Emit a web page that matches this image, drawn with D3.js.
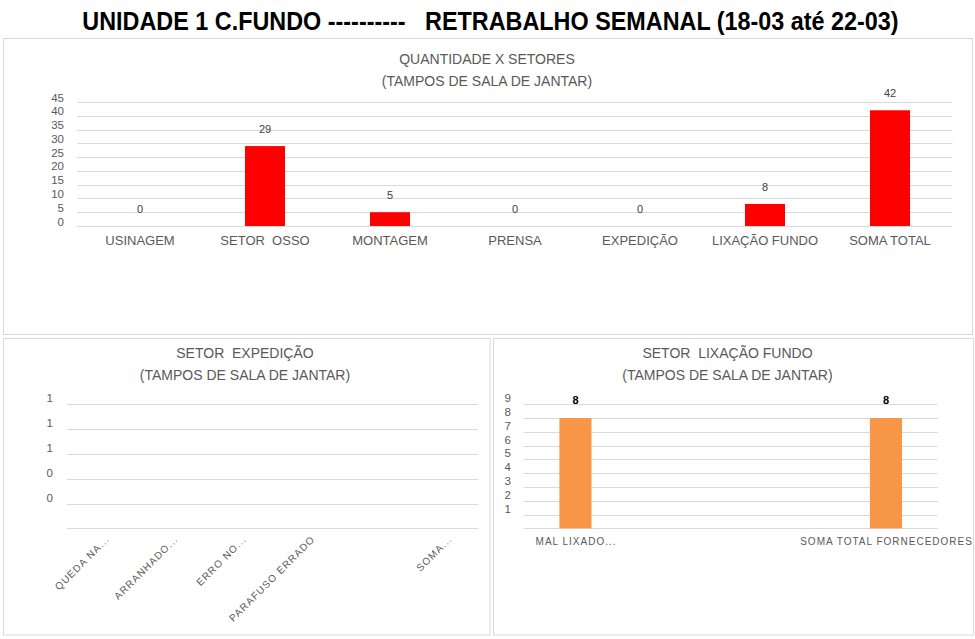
<!DOCTYPE html>
<html>
<head>
<meta charset="utf-8">
<script src="https://cdn.jsdelivr.net/npm/d3@7"></script>
<style>
  html, body { margin: 0; padding: 0; background: #fff; }
  svg { display: block; }
</style>
</head>
<body>
<svg id="chart" width="975" height="639"></svg>
<script>
// ---------- DATA ----------
const mainTitle = "UNIDADE 1 C.FUNDO ----------   RETRABALHO SEMANAL (18-03 até 22-03)";

const topTitle = ["QUANTIDADE X SETORES", "(TAMPOS DE SALA DE JANTAR)"];
const topCategories = ["USINAGEM", "SETOR  OSSO", "MONTAGEM", "PRENSA", "EXPEDIÇÃO", "LIXAÇÃO FUNDO", "SOMA TOTAL"];
const topValues = [0, 29, 5, 0, 0, 8, 42];
const topTicks = [0, 5, 10, 15, 20, 25, 30, 35, 40, 45];

const expTitle = ["SETOR  EXPEDIÇÃO", "(TAMPOS DE SALA DE JANTAR)"];
const expCategories = ["QUEDA NA...", "ARRANHADO...", "ERRO NO...", "PARAFUSO ERRADO", "", "SOMA..."];
const expValues = [0, 0, 0, 0, 0, 0];
const expTicks = [0, 0.2, 0.4, 0.6, 0.8, 1];
const expTickLabels = ["", "0", "0", "1", "1", "1"];

const lixTitle = ["SETOR  LIXAÇÃO FUNDO", "(TAMPOS DE SALA DE JANTAR)"];
const lixCategories = ["MAL LIXADO...", "", "", "SOMA TOTAL FORNECEDORES"];
const lixValues = [8, null, null, 8];
const lixTicks = [0, 1, 2, 3, 4, 5, 6, 7, 8, 9];
const lixTickLabels = ["", "1", "2", "3", "4", "5", "6", "7", "8", "9"];

// ---------- DRAW ----------
const svg = d3.select("#chart");
const FONT = "'Liberation Sans', Arial, sans-serif";
const GRAY = "#595959";
const GRID = "#d9d9d9";

svg.append("rect").attr("width", 975).attr("height", 639).attr("fill", "#fff");

// main title, condensed to mimic a narrow bold face
{
  const tg = svg.append("g");
  const t = tg.append("text")
    .attr("x", 0).attr("y", 0)
    .attr("text-anchor", "middle")
    .attr("font-family", FONT)
    .attr("font-weight", "bold")
    .attr("font-size", 25)
    .attr("fill", "#000")
    .style("white-space", "pre")
    .text(mainTitle);
  const w = t.node().getComputedTextLength();
  const sx = 817 / w;
  tg.attr("transform", `translate(490.5,29.5) scale(${sx},1)`);
}

// panels
const panels = [
  {x: 3.5, y: 38.5, w: 969, h: 296},
  {x: 3.5, y: 338.5, w: 486.5, h: 296.5},
  {x: 493.5, y: 338.5, w: 480, h: 296.5}
];
svg.selectAll("rect.panel").data(panels).join("rect")
  .attr("class", "panel")
  .attr("x", d => d.x).attr("y", d => d.y)
  .attr("width", d => d.w).attr("height", d => d.h)
  .attr("fill", "#fff").attr("stroke", GRID).attr("stroke-width", 1);

function chartTitle(lines, cx) {
  svg.append("g").selectAll("text").data(lines).join("text")
    .attr("x", cx).attr("y", (d, i) => 354 + i * 22)
    .attr("text-anchor", "middle")
    .attr("dominant-baseline", "middle")
    .attr("font-family", FONT)
    .attr("font-size", 14)
    .attr("fill", GRAY)
    .style("white-space", "pre")
    .text(d => d);
}

// ---- Top chart ----
{
  const x = d3.scaleBand().domain(topCategories).range([77.5, 952.5]).paddingInner(0.68).paddingOuter(0.34);
  const y = d3.scaleLinear().domain([0, 45]).range([226, 102]);
  const g = svg.append("g");

  g.selectAll("text.t").data(topTitle).join("text")
    .attr("x", 487).attr("y", (d, i) => 60 + i * 22)
    .attr("text-anchor", "middle").attr("dominant-baseline", "middle")
    .attr("font-family", FONT).attr("font-size", 14).attr("fill", GRAY)
    .text(d => d);

  g.selectAll("line.grid").data(topTicks).join("line")
    .attr("x1", 77.5).attr("x2", 952.5)
    .attr("y1", d => Math.round(y(d)) + 0.5).attr("y2", d => Math.round(y(d)) + 0.5)
    .attr("stroke", GRID);

  g.selectAll("text.tick").data(topTicks).join("text")
    .attr("x", 64).attr("y", d => y(d) - 3.5)
    .attr("text-anchor", "end").attr("dominant-baseline", "middle")
    .attr("font-family", FONT).attr("font-size", 11.5).attr("fill", GRAY)
    .text(d => d);

  g.selectAll("rect.bar").data(topValues).join("rect")
    .attr("x", (d, i) => x(topCategories[i]))
    .attr("width", x.bandwidth())
    .attr("y", d => y(d)).attr("height", d => y(0) - y(d))
    .attr("fill", "#ff0000");

  g.selectAll("text.val").data(topValues).join("text")
    .attr("x", (d, i) => x(topCategories[i]) + x.bandwidth() / 2)
    .attr("y", d => y(d) - 16)
    .attr("text-anchor", "middle").attr("dominant-baseline", "middle")
    .attr("font-family", FONT).attr("font-size", 11).attr("fill", "#404040")
    .text(d => d);

  g.selectAll("text.cat").data(topCategories).join("text")
    .attr("x", d => x(d) + x.bandwidth() / 2).attr("y", 241.5)
    .attr("text-anchor", "middle").attr("dominant-baseline", "middle")
    .attr("font-family", FONT).attr("font-size", 13).attr("fill", GRAY)
    .style("white-space", "pre")
    .text(d => d);
}

// ---- Bottom-left: Expedição ----
{
  chartTitle(expTitle, 245);
  const x = d3.scaleBand().domain(d3.range(expCategories.length)).range([67, 478]).paddingInner(0.68).paddingOuter(0.34);
  const y = d3.scaleLinear().domain([0, 1]).range([528.3, 404.3]);
  const g = svg.append("g");

  g.selectAll("line.grid").data(expTicks).join("line")
    .attr("x1", 67).attr("x2", 478)
    .attr("y1", d => Math.round(y(d)) + 0.5).attr("y2", d => Math.round(y(d)) + 0.5)
    .attr("stroke", GRID);

  g.selectAll("text.tick").data(expTicks).join("text")
    .attr("x", 53).attr("y", d => y(d) - 5)
    .attr("text-anchor", "end").attr("dominant-baseline", "middle")
    .attr("font-family", FONT).attr("font-size", 11.5).attr("fill", GRAY)
    .text((d, i) => expTickLabels[i]);

  g.selectAll("rect.bar").data(expValues).join("rect")
    .attr("x", (d, i) => x(i)).attr("width", x.bandwidth())
    .attr("y", d => y(d)).attr("height", d => y(0) - y(d))
    .attr("fill", "#f79646");

  g.selectAll("text.cat").data(expCategories).join("text")
    .attr("transform", (d, i) => `translate(${x(i) + x.bandwidth() / 2 + 7},538) rotate(-45)`)
    .attr("text-anchor", "end").attr("dominant-baseline", "middle")
    .attr("font-family", FONT).attr("font-size", 10).attr("fill", GRAY)
    .attr("letter-spacing", 1.1)
    .text(d => d);
}

// ---- Bottom-right: Lixação fundo ----
{
  chartTitle(lixTitle, 727.5);
  const x = d3.scaleBand().domain(d3.range(lixCategories.length)).range([523.7, 937.7]).paddingInner(0.69).paddingOuter(0.345);
  const y = d3.scaleLinear().domain([0, 9]).range([528.3, 404.3]);
  const g = svg.append("g");

  g.selectAll("line.grid").data(lixTicks).join("line")
    .attr("x1", 523.7).attr("x2", 937.7)
    .attr("y1", d => Math.round(y(d)) + 0.5).attr("y2", d => Math.round(y(d)) + 0.5)
    .attr("stroke", GRID);

  g.selectAll("text.tick").data(lixTicks).join("text")
    .attr("x", 511).attr("y", d => y(d) - 5)
    .attr("text-anchor", "end").attr("dominant-baseline", "middle")
    .attr("font-family", FONT).attr("font-size", 11.5).attr("fill", GRAY)
    .text((d, i) => lixTickLabels[i]);

  const bars = lixValues.map((v, i) => ({v, i})).filter(d => d.v != null);

  g.selectAll("rect.bar").data(bars).join("rect")
    .attr("x", d => x(d.i)).attr("width", x.bandwidth())
    .attr("y", d => y(d.v)).attr("height", d => y(0) - y(d.v))
    .attr("fill", "#f79646");

  g.selectAll("text.val").data(bars).join("text")
    .attr("x", d => x(d.i) + x.bandwidth() / 2).attr("y", d => y(d.v) - 17)
    .attr("text-anchor", "middle").attr("dominant-baseline", "middle")
    .attr("font-family", FONT).attr("font-size", 11).attr("font-weight", "bold").attr("fill", "#000")
    .text(d => d.v);

  g.selectAll("text.cat").data(lixCategories).join("text")
    .attr("x", (d, i) => x(i) + x.bandwidth() / 2 + 0.6).attr("y", 542)
    .attr("text-anchor", "middle").attr("dominant-baseline", "middle")
    .attr("font-family", FONT).attr("font-size", 10).attr("fill", GRAY)
    .attr("letter-spacing", 1.0)
    .text(d => d);
}
</script>
</body>
</html>
